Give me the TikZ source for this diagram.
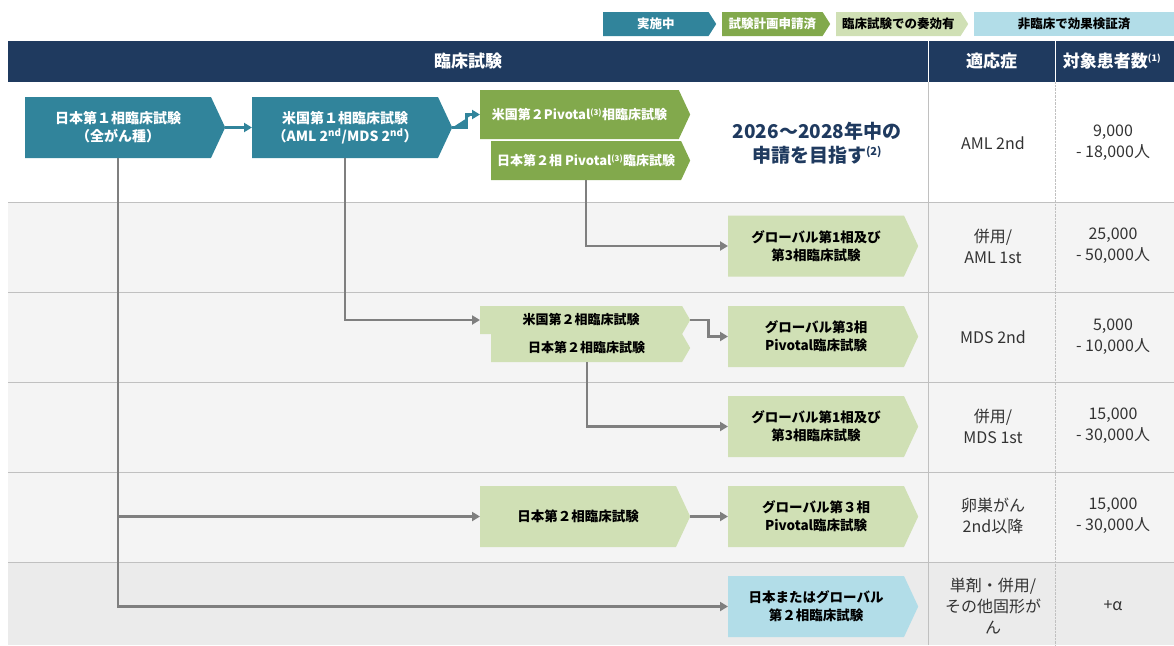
\documentclass[tikz,border=0pt]{standalone}
\usepackage{fontspec}
\setmainfont{Noto Sans CJK JP}
\usetikzlibrary{shapes.symbols,arrows.meta,positioning}
\definecolor{Navy}{HTML}{1F3A5F}
\definecolor{Teal}{HTML}{31849B}
\definecolor{Leaf}{HTML}{82A94C}
\definecolor{Pale}{HTML}{D0E0B5}
\definecolor{Sky}{HTML}{B2DDE8}
\definecolor{RowGray}{HTML}{F4F4F4}
\definecolor{RowDark}{HTML}{EBEBEB}
\definecolor{LineGray}{HTML}{C0C0C0}
\definecolor{FlowGray}{HTML}{7F7F7F}
\definecolor{TextGray}{HTML}{333333}
\newcommand\Sup[1]{\textsuperscript{\fontsize{8}{8}\selectfont(#1)}}
\tikzset{
    Chevron/.style={signal, signal to=east, signal from=nowhere, signal pointer angle=130,
        anchor=west, inner sep=0pt, align=center, font=\bfseries\fontsize{14}{18}\selectfont},
    TealBox/.style={Chevron, fill=Teal, text=white, minimum width=200pt, minimum height=61pt},
    LeafBox/.style={Chevron, fill=Leaf, text=white, minimum width=210pt, font=\bfseries\fontsize{13}{16}\selectfont},
    PaleBox/.style={Chevron, fill=Pale, text=black, minimum width=190pt, minimum height=61pt, font=\bfseries\fontsize{13.5}{18}\selectfont},
    SkyBox/.style={PaleBox, fill=Sky},
    LegendBox/.style={Chevron, signal pointer angle=115, minimum height=24pt, font=\bfseries\fontsize{12.5}{14}\selectfont},
    HeadText/.style={text=white, font=\bfseries\fontsize{17}{20}\selectfont},
    CellText/.style={text=TextGray, align=center, font=\fontsize{16}{21}\selectfont},
    Flow/.style={draw=FlowGray, line width=2.2pt, -{Triangle[length=8pt,width=9pt]}},
    TealFlow/.style={Flow, draw=Teal, fill=Teal},
}

\begin{document}
\begin{tikzpicture}[x=1pt,y=-1pt]
    \useasboundingbox (0,0) rectangle (1174,645);
    % legend
    \node[LegendBox, fill=Teal, text=white, minimum width=113pt] (LegDoing) at (603,24) {実施中};
    \node[LegendBox, fill=Leaf, text=white, minimum width=108pt] (LegFiled) at (722,24) {試験計画申請済};
    \node[LegendBox, fill=Pale, text=black, minimum width=132pt] (LegResponse) at (836,24) {臨床試験での奏効有};
    \node[fill=Sky, inner sep=0pt, minimum width=200pt, minimum height=24pt,
        font=\bfseries\fontsize{12.5}{14}\selectfont] (LegPreclin) at (1074,24) {非臨床で効果検証済};
    % rows
    \fill[RowGray] (8,202) rectangle (1174,562);
    \fill[RowDark] (8,562) rectangle (1174,645);
    \foreach \y in {202,292,382,472,562}
        \draw[LineGray, line width=1pt] (8,\y) -- (1174,\y);
    \draw[LineGray, line width=1pt] (928,82) -- (928,645);
    \draw[LineGray, densely dotted] (1055,82) -- (1055,645);
    % header
    \fill[Navy] (8,41) rectangle (1174,82);
    \draw[white, line width=1pt] (928,41) -- (928,82);
    \draw[white, line width=1pt] (1055,41) -- (1055,82);
    \node[HeadText] (HeadTrial) at (468,61.5) {臨床試験};
    \node[HeadText] (HeadIndication) at (991.5,61.5) {適応症};
    \node[HeadText] (HeadPatients) at (1112,61.5) {対象患者数\textsuperscript{\fontsize{9}{9}\selectfont(1)}};
    % row 1
    \node[TealBox] (JpPhOne) at (25,127.5) {日本第１相臨床試験\\（全がん種）};
    \node[TealBox] (UsPhOne) at (252,127.5) {米国第１相臨床試験\\（AML 2\textsuperscript{nd}/MDS 2\textsuperscript{nd}）};
    \node[LeafBox, minimum height=49pt] (UsPivotal) at (480,114.5) {米国第２Pivotal\Sup{3}相臨床試験};
    \node[LeafBox, minimum width=199pt, minimum height=39pt] (JpPivotal) at (491,160.5) {日本第２相 Pivotal\Sup{3}臨床試験};
    \node[text=Navy, align=center, font=\bfseries\fontsize{19}{24}\selectfont] (Goal) at (817,143)
        {2026～2028年中の\\申請を目指す\textsuperscript{\fontsize{11}{11}\selectfont(2)}};
    % rows 2-6
    \node[PaleBox] (AmlFirst) at (728,246) {グローバル第1相及び\\第3相臨床試験};
    \node[LeafBox, fill=Pale, text=black, signal pointer angle=120, minimum height=28pt] (UsPhTwo) at (480,320) {米国第２相臨床試験};
    \node[LeafBox, fill=Pale, text=black, signal pointer angle=120, minimum width=199pt, minimum height=28pt] (JpPhTwo) at (491,348) {日本第２相臨床試験};
    \node[PaleBox] (MdsPivotal) at (728,336.5) {グローバル第3相\\Pivotal臨床試験};
    \node[PaleBox] (MdsFirst) at (728,426.5) {グローバル第1相及び\\第3相臨床試験};
    \node[PaleBox, minimum width=210pt] (OvaryPhTwo) at (480,516.5) {日本第２相臨床試験};
    \node[PaleBox] (OvaryPivotal) at (728,516.5) {グローバル第３相\\Pivotal臨床試験};
    \node[SkyBox] (SolidPhTwo) at (728,606.5) {日本またはグローバル\\第２相臨床試験};
    % connectors
    \draw[TealFlow] (JpPhOne.east) -- (UsPhOne.west);
    \draw[TealFlow] (UsPhOne.east) -- ++(14,0) |- (UsPivotal.west);
    \coordinate (TrunkTop) at (JpPhOne.south);
    \draw[Flow] (TrunkTop) |- (SolidPhTwo.west);
    \draw[Flow] (TrunkTop |- OvaryPhTwo.west) -- (OvaryPhTwo.west);
    \draw[Flow] (UsPhOne.south) |- (UsPhTwo.west);
    \draw[Flow] (JpPivotal.south) |- (AmlFirst.west);
    \draw[Flow] (UsPhTwo.east) -- ++(18,0) |- (MdsPivotal.west);
    \draw[Flow] (JpPhTwo.south) |- (MdsFirst.west);
    \draw[Flow] (OvaryPhTwo.east) -- (OvaryPivotal.west);
    % indication and patients
    \node[CellText] (IndA) at (993,143) {AML 2nd};
    \node[CellText] (PatA) at (1113,143) {9,000\\- 18,000人};
    \node[CellText] (IndB) at (993,246) {併用/\\AML 1st};
    \node[CellText] (PatB) at (1113,246) {25,000\\- 50,000人};
    \node[CellText] (IndC) at (993,337) {MDS 2nd};
    \node[CellText] (PatC) at (1113,337) {5,000\\- 10,000人};
    \node[CellText] (IndD) at (993,426) {併用/\\MDS 1st};
    \node[CellText] (PatD) at (1113,426) {15,000\\- 30,000人};
    \node[CellText] (IndE) at (993,516) {卵巣がん\\2nd以降};
    \node[CellText] (PatE) at (1113,516) {15,000\\- 30,000人};
    \node[CellText] (IndF) at (993,606) {単剤・併用/\\その他固形が\\ん};
    \node[CellText] (PatF) at (1113,606) {+α};
\end{tikzpicture}
\end{document}
